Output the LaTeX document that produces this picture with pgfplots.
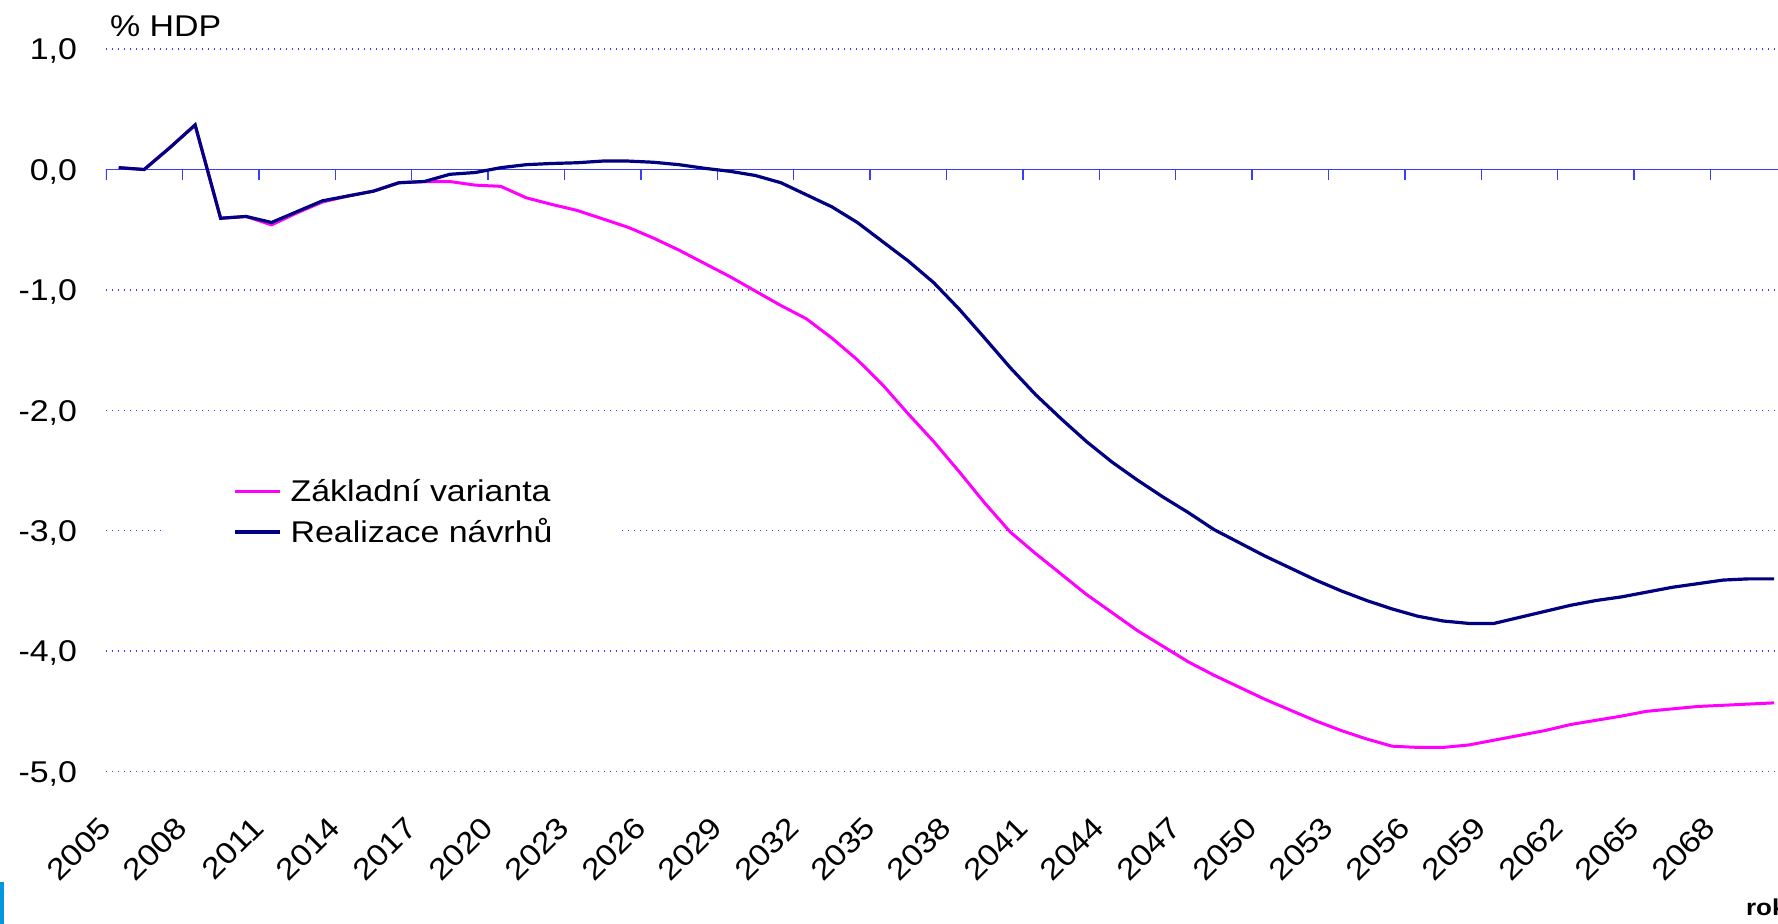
\documentclass[border=0pt]{standalone}
\usepackage{fontspec}
\setmainfont{Liberation Sans}[FakeStretch=1.13]
\usepackage{pgfplots}
\pgfplotsset{compat=1.18}
\definecolor{navyline}{RGB}{0,0,128}
\definecolor{magline}{RGB}{255,0,255}
\definecolor{gridblue}{RGB}{60,60,255}
\definecolor{axblue}{RGB}{60,60,255}
\definecolor{barblue}{RGB}{0,153,221}
\begin{document}
\begin{tikzpicture}[font=\fontsize{15}{18}\selectfont]
\begin{axis}[
  name=ax,
  scale only axis, width=836pt, height=361.2pt,
  xmin=2004.5, xmax=2070.15, ymin=-5, ymax=1,
  axis line style={draw=none},
  major tick length=0pt,
  xtick={2004.5,2007.5,2010.5,2013.5,2016.5,2019.5,2022.5,2025.5,2028.5,2031.5,2034.5,2037.5,2040.5,2043.5,2046.5,2049.5,2052.5,2055.5,2058.5,2061.5,2064.5,2067.5},
  xticklabels={2005,2008,2011,2014,2017,2020,2023,2026,2029,2032,2035,2038,2041,2044,2047,2050,2053,2056,2059,2062,2065,2068},
  ytick={-5,-4,-3,-2,-1,0,1},
  yticklabels={{-5,0},{-4,0},{-3,0},{-2,0},{-1,0},{0,0},{1,0}},
  ymajorgrids,
  grid style={gridblue, line width=0.7pt, dash pattern=on 0.7pt off 2.3pt},
  ticklabel style={font=\fontsize{15}{18}\selectfont},
  xticklabel style={inner sep=0pt, xshift=-4pt, yshift=-21.4pt, rotate=45, anchor=north east},
  yticklabel style={anchor=base east, inner sep=0pt, xshift=-14.3pt, yshift=-5.37pt},
  legend style={at={(0.0353,0.3599)}, anchor=west, draw=none, fill=white,
    inner xsep=34pt, inner ysep=9pt, row sep=9.75pt,
    font=\fontsize{15}{18}\selectfont,
    nodes={inner sep=0pt, text height=10.75pt, text depth=0pt},
    /tikz/every odd column/.append style={column sep=4.5pt}},
  legend cell align=left,
  legend image code/.code={\draw[#1] (0pt,0pt) -- (22.5pt,0pt);},
]
\draw[axblue, line width=0.7pt] (axis cs:2004.5,0) -- (axis cs:2070.15,0);
\pgfplotsinvokeforeach{2004.5,2007.5,2010.5,2013.5,2016.5,2019.5,2022.5,2025.5,2028.5,2031.5,2034.5,2037.5,2040.5,2043.5,2046.5,2049.5,2052.5,2055.5,2058.5,2061.5,2064.5,2067.5}{
  \draw[axblue, line width=0.7pt] (axis cs:#1,0) -- ([yshift=-5.3pt]axis cs:#1,0);
}
\addplot[magline, line width=1.5pt] coordinates {
(2005,0.015) (2006,0.00) (2007,0.18) (2008,0.37) (2009,-0.405) (2010,-0.39)
(2011,-0.46) (2012,-0.36) (2013,-0.27) (2014,-0.22) (2015,-0.18) (2016,-0.11)
(2017,-0.10) (2018,-0.10) (2019,-0.13) (2020,-0.14) (2021,-0.235) (2022,-0.29)
(2023,-0.34) (2024,-0.41) (2025,-0.48) (2026,-0.57) (2027,-0.67) (2028,-0.78)
(2029,-0.89) (2030,-1.01) (2031,-1.13) (2032,-1.24) (2033,-1.40) (2034,-1.58)
(2035,-1.79) (2036,-2.03) (2037,-2.26) (2038,-2.51) (2039,-2.77) (2040,-3.01)
(2041,-3.19) (2042,-3.36) (2043,-3.53) (2044,-3.68) (2045,-3.83) (2046,-3.96)
(2047,-4.09) (2048,-4.20) (2049,-4.30) (2050,-4.40) (2051,-4.49) (2052,-4.58)
(2053,-4.66) (2054,-4.73) (2055,-4.79) (2056,-4.80) (2057,-4.80) (2058,-4.78)
(2059,-4.74) (2060,-4.70) (2061,-4.66) (2062,-4.61) (2063,-4.575) (2064,-4.54)
(2065,-4.50) (2066,-4.48) (2067,-4.46) (2068,-4.45) (2069,-4.44) (2070,-4.43)
};
\addlegendentry{Základní varianta}
\addplot[navyline, line width=1.6pt] coordinates {
(2005,0.015) (2006,0.00) (2007,0.18) (2008,0.37) (2009,-0.405) (2010,-0.39)
(2011,-0.44) (2012,-0.35) (2013,-0.26) (2014,-0.22) (2015,-0.18) (2016,-0.11)
(2017,-0.10) (2018,-0.04) (2019,-0.025) (2020,0.015) (2021,0.04) (2022,0.05)
(2023,0.056) (2024,0.07) (2025,0.07) (2026,0.06) (2027,0.04) (2028,0.01)
(2029,-0.015) (2030,-0.05) (2031,-0.11) (2032,-0.21) (2033,-0.31) (2034,-0.44)
(2035,-0.60) (2036,-0.76) (2037,-0.94) (2038,-1.16) (2039,-1.40) (2040,-1.645)
(2041,-1.87) (2042,-2.07) (2043,-2.26) (2044,-2.43) (2045,-2.58) (2046,-2.72)
(2047,-2.85) (2048,-2.99) (2049,-3.10) (2050,-3.21) (2051,-3.31) (2052,-3.41)
(2053,-3.50) (2054,-3.58) (2055,-3.65) (2056,-3.71) (2057,-3.75) (2058,-3.77)
(2059,-3.77) (2060,-3.72) (2061,-3.67) (2062,-3.62) (2063,-3.58) (2064,-3.55)
(2065,-3.51) (2066,-3.47) (2067,-3.44) (2068,-3.41) (2069,-3.40) (2070,-3.40)
};
\addlegendentry{Realizace návrhů}
\end{axis}
\node[anchor=base west] at ([shift={(-1.5pt,367.4pt)}]ax.south west) {\% HDP};
\node[anchor=base west, font=\bfseries\fontsize{11.5}{14}\selectfont] at ([shift={(816.5pt,-72.25pt)}]ax.south west) {rok};
\fill[barblue] ([shift={(-53pt,-76.25pt)}]ax.south west) rectangle ([shift={(-50.75pt,-55.25pt)}]ax.south west);
\pgfresetboundingbox
\path[use as bounding box] ([shift={(-53pt,-76.25pt)}]ax.south west) rectangle ([shift={(836pt,385.75pt)}]ax.south west);
\end{tikzpicture}
\end{document}
